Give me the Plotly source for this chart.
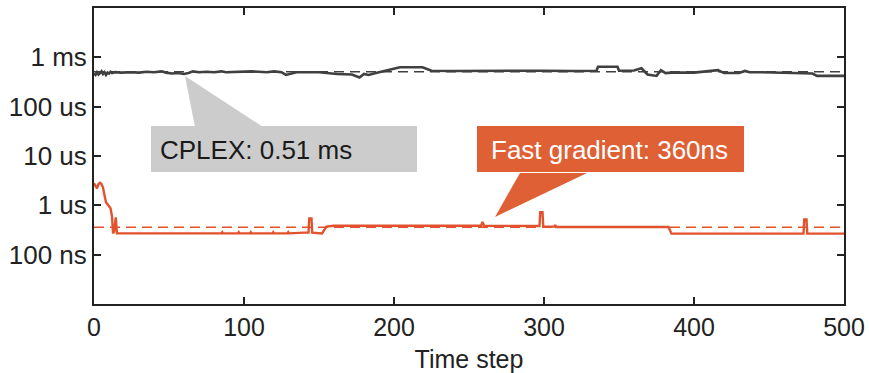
import plotly.graph_objects as go

# ---------------- data ----------------
cplex_steps = [0, 1, 2, 3, 4, 5, 6, 7, 8, 9, 10, 11, 12, 14, 18, 25, 30, 35, 40, 45, 48, 52,
               56, 60, 63, 66, 70, 75, 80, 85, 88, 95, 100, 105, 110, 115, 120, 125, 128, 131,
               135, 150, 162, 172, 177, 180, 183, 190, 194, 197, 204, 219, 225, 240, 260, 280,
               300, 320, 335, 336, 349, 350, 360, 365, 369, 375, 378, 381, 385, 400, 416, 420,
               430, 434, 437, 445, 460, 470, 479, 482, 496, 500]
cplex_ms = [0.47, 0.44, 0.50, 0.45, 0.48, 0.52, 0.46, 0.50, 0.44, 0.49, 0.47, 0.51, 0.48, 0.50,
            0.49, 0.50, 0.49, 0.51, 0.50, 0.52, 0.49, 0.47, 0.48, 0.46, 0.48, 0.52, 0.50, 0.51,
            0.50, 0.52, 0.50, 0.51, 0.50, 0.52, 0.51, 0.50, 0.52, 0.50, 0.44, 0.47, 0.50, 0.50,
            0.46, 0.45, 0.39, 0.46, 0.44, 0.50, 0.53, 0.57, 0.63, 0.63, 0.535, 0.53, 0.535, 0.53,
            0.535, 0.53, 0.535, 0.645, 0.645, 0.535, 0.54, 0.60, 0.45, 0.42, 0.55, 0.48, 0.49,
            0.49, 0.55, 0.48, 0.48, 0.53, 0.50, 0.50, 0.49, 0.47, 0.47, 0.42, 0.42, 0.42]

fg_steps = [0, 1, 2, 3, 4, 5, 6, 7, 8, 9, 10, 11, 12, 12.7, 13.5, 14.5, 15.3, 16, 85, 85.5, 86,
            96, 96.5, 97, 104, 104.5, 105, 119, 119.5, 120, 129, 129.5, 130, 140, 143, 143.5, 145,
            145.5, 152, 155, 160, 200, 258, 259, 260, 297, 297.5, 299, 299.5, 307, 307.5, 308,
            340, 383, 385, 473, 473.5, 475, 475.5, 500]
fg_us = [2.8, 2.5, 2.2, 2.7, 2.85, 2.7, 2.3, 1.6, 1.15, 1.05, 0.95, 0.87, 0.6, 0.27, 0.30, 0.57,
         0.27, 0.27, 0.27, 0.285, 0.27, 0.27, 0.285, 0.27, 0.27, 0.285, 0.27, 0.27, 0.285, 0.27,
         0.27, 0.285, 0.27, 0.28, 0.28, 0.54, 0.54, 0.28, 0.27, 0.37, 0.385, 0.385, 0.385, 0.46,
         0.385, 0.38, 0.73, 0.73, 0.37, 0.37, 0.40, 0.365, 0.37, 0.365, 0.267, 0.267, 0.52, 0.52,
         0.267, 0.267]

cplex_mean_ms = 0.51
fg_mean_ns = 360

y_tickvals = [1e-7, 1e-6, 1e-5, 1e-4, 1e-3]
y_ticktext = ["100 ns", "1 us", "10 us", "100 us", "1 ms"]
x_tickvals = [0, 100, 200, 300, 400, 500]

cplex_label = "CPLEX: 0.51 ms"
fg_label = "Fast gradient: 360ns"

# ---------------- styling ----------------
GRAY = "#404040"
ORANGE = "#E2522C"
BOX_GRAY = "#CCCCCC"
BOX_ORANGE = "#E06036"
FONT = "Liberation Sans, Arial, sans-serif"
W, H = 869, 373

fig = go.Figure()

fig.add_trace(go.Scatter(x=[0, 500], y=[cplex_mean_ms * 1e-3] * 2, mode="lines",
                         line=dict(color=GRAY, width=1.5, dash="10px,6px"), hoverinfo="skip"))
fig.add_trace(go.Scatter(x=cplex_steps, y=[v * 1e-3 for v in cplex_ms], mode="lines",
                         line=dict(color=GRAY, width=2.6)))
fig.add_trace(go.Scatter(x=[0, 500], y=[fg_mean_ns * 1e-9] * 2, mode="lines",
                         line=dict(color=ORANGE, width=1.4, dash="10px,6px"), hoverinfo="skip"))
fig.add_trace(go.Scatter(x=fg_steps, y=[v * 1e-6 for v in fg_us], mode="lines",
                         line=dict(color=ORANGE, width=2.4)))

# plot-area geometry (pixels) for placing the callouts in paper coordinates
L, R, T, B = 94, 844, 8, 304


def px(x):
    return (x - L) / (R - L)


def py(y):
    return (B - y) / (B - T)


def tri(p1, p2, p3):
    return "M {} {} L {} {} L {} {} Z".format(px(p1[0]), py(p1[1]), px(p2[0]), py(p2[1]),
                                             px(p3[0]), py(p3[1]))


shapes = [
    dict(type="path", xref="paper", yref="paper", path=tri((185, 76), (195, 127), (263, 127)),
         fillcolor=BOX_GRAY, line=dict(width=0), layer="above"),
    dict(type="rect", xref="paper", yref="paper", x0=px(151), x1=px(417), y0=py(172), y1=py(126),
         fillcolor=BOX_GRAY, line=dict(width=0), layer="above"),
    dict(type="path", xref="paper", yref="paper", path=tri((495, 217), (520, 173), (587, 173)),
         fillcolor=BOX_ORANGE, line=dict(width=0), layer="above"),
    dict(type="rect", xref="paper", yref="paper", x0=px(477), x1=px(744), y0=py(172), y1=py(126),
         fillcolor=BOX_ORANGE, line=dict(width=0), layer="above"),
]

annotations = [
    dict(text=cplex_label, xref="paper", yref="paper", x=px(158), y=py(150), xanchor="left",
         yanchor="middle", showarrow=False, font=dict(family=FONT, size=26, color="#1a1a1a")),
    dict(text=fg_label, xref="paper", yref="paper", x=px(489), y=py(150), xanchor="left",
         yanchor="middle", showarrow=False, font=dict(family=FONT, size=26, color="white")),
]

fig.update_layout(
    width=W, height=H,
    margin=dict(l=L, r=W - R, t=T, b=H - B, autoexpand=False),
    paper_bgcolor="white", plot_bgcolor="white",
    showlegend=False,
    font=dict(family=FONT, size=25, color="#222222"),
    shapes=shapes, annotations=annotations,
    xaxis=dict(range=[0, 500], tickvals=x_tickvals, ticks="inside", ticklen=7, tickwidth=1.5,
               tickcolor="#222222", showline=True, linecolor="#222222", linewidth=2,
               mirror="ticks", showgrid=False, zeroline=False, automargin=False,
               title=dict(text="Time step", font=dict(size=25), standoff=12)),
    yaxis=dict(type="log", range=[-8, -2], tickvals=y_tickvals, ticktext=y_ticktext,
               ticks="inside", ticklen=7, tickwidth=1.5, tickcolor="#222222", showline=True,
               linecolor="#222222", linewidth=2, mirror="ticks", showgrid=False, zeroline=False,
               automargin=False, tickfont=dict(size=26)),
)

fig.write_html("out.html",
               config={"displayModeBar": False},
               post_script="document.body.style.margin='0px';document.body.style.overflow='hidden';")
